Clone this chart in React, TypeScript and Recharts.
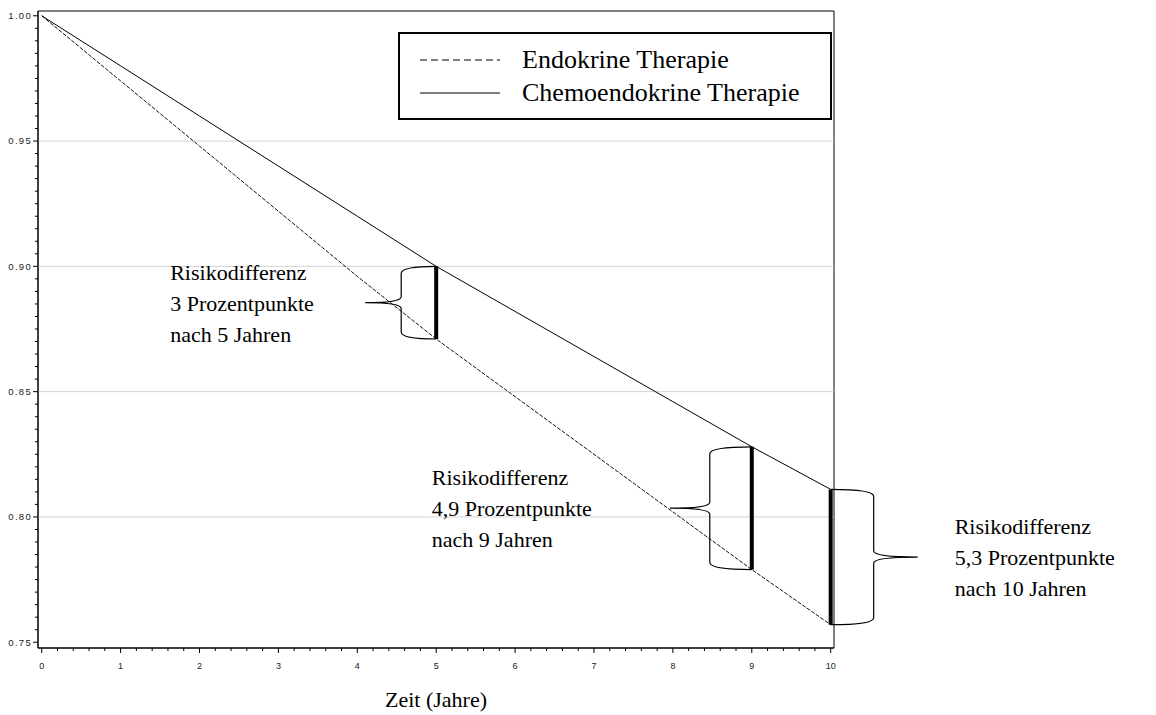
import { ComposedChart, Line, XAxis, YAxis, ReferenceLine, ReferenceArea, Legend, Label } from 'recharts';

// Jahre und Überlebensanteile
const years = [0, 1, 2, 3, 4, 5, 6, 7, 8, 9, 10];
const endokrin = [1.0, 0.974, 0.948, 0.922, 0.896, 0.871, 0.848, 0.825, 0.802, 0.779, 0.757];
const chemoendokrin = [1.0, 0.98, 0.96, 0.94, 0.92, 0.9, 0.882, 0.864, 0.846, 0.828, 0.811];
const seriesNames = ['Endokrine Therapie', 'Chemoendokrine Therapie'];

// Risikodifferenzen
const diffYears = [5, 9, 10];
const diffLabels = ['3 Prozentpunkte', '4,9 Prozentpunkte', '5,3 Prozentpunkte'];

const yMajor = [0.75, 0.8, 0.85, 0.9, 0.95, 1.0];
const xMajor = [0, 1, 2, 3, 4, 5, 6, 7, 8, 9, 10];
const gridValues = [0.8, 0.85, 0.9, 0.95];

const xDomain = [-0.047, 10.042];
const yDomain = [0.7477, 1.0019];

const xTicks = Array.from({ length: 51 }, (_, i) => Math.round(i * 0.2 * 1000) / 1000);
const yTicks = Array.from({ length: 51 }, (_, i) => Math.round((0.75 + i * 0.005) * 1000) / 1000);

const data = years.map((t, i) => ({ t, endo: endokrin[i], chemo: chemoendokrin[i] }));

const tickFont = "'Liberation Sans', Arial, sans-serif";
const serif = "'Liberation Serif', 'Times New Roman', serif";

// brace side / depth / text offset per annotation
const annoStyle = [
  { side: -1, depth: 35, tip: 71, textDx: -266 },
  { side: -1, depth: 42, tip: 82, textDx: -320 },
  { side: 1, depth: 43, tip: 87, textDx: 124 },
];

const isMajor = (list: number[], v: number) => list.some((m) => Math.abs(m - v) < 1e-6);

function YTick(props: any) {
  const { x, y, payload } = props;
  const major = isMajor(yMajor, payload.value);
  return (
    <g>
      <line x1={x - (major ? 5 : 3)} x2={x} y1={y} y2={y} stroke="#000" />
      {major && (
        <text x={x - 6} y={y} dy="0.35em" textAnchor="end" style={{ fontFamily: tickFont, fontSize: 9.5, letterSpacing: 1.3, fill: '#222' }}>
          {payload.value.toFixed(2)}
        </text>
      )}
    </g>
  );
}

function XTick(props: any) {
  const { x, y, payload } = props;
  const major = isMajor(xMajor, payload.value);
  return (
    <g>
      <line x1={x} x2={x} y1={y} y2={y + (major ? 5 : 3)} stroke="#000" />
      {major && (
        <text x={x} y={y + 21} textAnchor="middle" style={{ fontFamily: tickFont, fontSize: 9, fill: '#222' }}>
          {payload.value}
        </text>
      )}
    </g>
  );
}

const diffShape = (i: number) => (props: any) => {
  const { x1, y1, y2 } = props;
  const s = annoStyle[i];
  const b = x1;
  const t = Math.min(y1, y2);
  const u = Math.max(y1, y2);
  const m = (t + u) / 2;
  const v = b + s.side * s.depth;
  const p = b + s.side * s.tip;
  const d = `M ${b} ${t} Q ${v} ${t} ${v} ${t + 7} L ${v} ${m - 6} Q ${v} ${m} ${p} ${m} Q ${v} ${m} ${v} ${m + 6} L ${v} ${u - 7} Q ${v} ${u} ${b} ${u}`;
  const tx = b + s.textDx;
  const lines = ['Risikodifferenz', diffLabels[i], `nach ${diffYears[i]} Jahren`];
  return (
    <g>
      <path d={d} fill="none" stroke="#000" strokeWidth={1.2} />
      <line x1={b} x2={b} y1={t} y2={u} stroke="#000" strokeWidth={4} />
      {lines.map((l, k) => (
        <text key={k} x={tx} y={m - 23 + k * 31} style={{ fontFamily: serif, fontSize: 22, fill: '#000' }}>
          {l}
        </text>
      ))}
    </g>
  );
};

function LegendBox(props: any) {
  const items = props.payload || [];
  const ordered = seriesNames.map((n) => items.find((it: any) => it.value === n)).filter(Boolean);
  return (
    <div style={{ width: 434, height: 88, boxSizing: 'border-box', border: '2px solid #000', background: '#fff', position: 'relative' }}>
      {ordered.map((it: any, k: number) => (
        <div key={k} style={{ position: 'absolute', left: 0, top: 10 + k * 33, height: 32, display: 'flex', alignItems: 'center' }}>
          <svg width={100} height={10} style={{ marginLeft: 20 }}>
            <line x1={0} x2={80} y1={5} y2={5} stroke="#000" strokeWidth={1} strokeDasharray={it.payload?.strokeDasharray ? '7 4' : undefined} />
          </svg>
          <span style={{ fontFamily: serif, fontSize: 26, color: '#000', marginLeft: 2, whiteSpace: 'nowrap' }}>{it.value}</span>
        </div>
      ))}
    </div>
  );
}

export default function App() {
  return (
    <div style={{ position: 'absolute', left: 0, top: 0, width: 1156, height: 715, background: '#fff' }}>
      <ComposedChart width={1156} height={715} data={data} margin={{ top: 11, right: 322, bottom: 0, left: 0 }}>
        <XAxis
          dataKey="t"
          type="number"
          domain={xDomain}
          allowDataOverflow
          ticks={xTicks}
          interval={0}
          tickSize={0}
          tickMargin={0}
          tickLine={false}
          tick={<XTick />}
          height={67}
          axisLine={{ stroke: '#000' }}
        >
          <Label value="Zeit (Jahre)" position="insideBottom" offset={8} style={{ fontFamily: serif, fontSize: 22, fill: '#000' }} />
        </XAxis>
        <YAxis
          type="number"
          domain={yDomain}
          allowDataOverflow
          ticks={yTicks}
          interval={0}
          tickSize={0}
          tickMargin={0}
          tickLine={false}
          tick={<YTick />}
          width={38}
          axisLine={{ stroke: '#000' }}
        />
        {gridValues.map((g) => (
          <ReferenceLine key={g} y={g} stroke="#d4d4d4" strokeWidth={1} />
        ))}
        <ReferenceArea x1={xDomain[0]} x2={xDomain[1]} y1={yDomain[0]} y2={yDomain[1]} fill="none" stroke="#000" strokeWidth={1} fillOpacity={0} />
        <Line type="linear" dataKey="endo" name="Endokrine Therapie" stroke="#111" strokeWidth={1} strokeDasharray="4 1.5" dot={false} activeDot={false} isAnimationActive={false} />
        <Line type="linear" dataKey="chemo" name="Chemoendokrine Therapie" stroke="#000" strokeWidth={1} dot={false} activeDot={false} isAnimationActive={false} />
        {diffYears.map((yr, i) => (
          <ReferenceLine
            key={yr}
            segment={[
              { x: yr, y: chemoendokrin[years.indexOf(yr)] },
              { x: yr, y: endokrin[years.indexOf(yr)] },
            ]}
            stroke="#000"
            shape={diffShape(i)}
          />
        ))}
        <Legend
          layout="vertical"
          align="center"
          verticalAlign="middle"
          wrapperStyle={{ position: 'absolute', left: 398, top: 32, width: 434, height: 88 }}
          content={<LegendBox />}
        />
      </ComposedChart>
    </div>
  );
}
